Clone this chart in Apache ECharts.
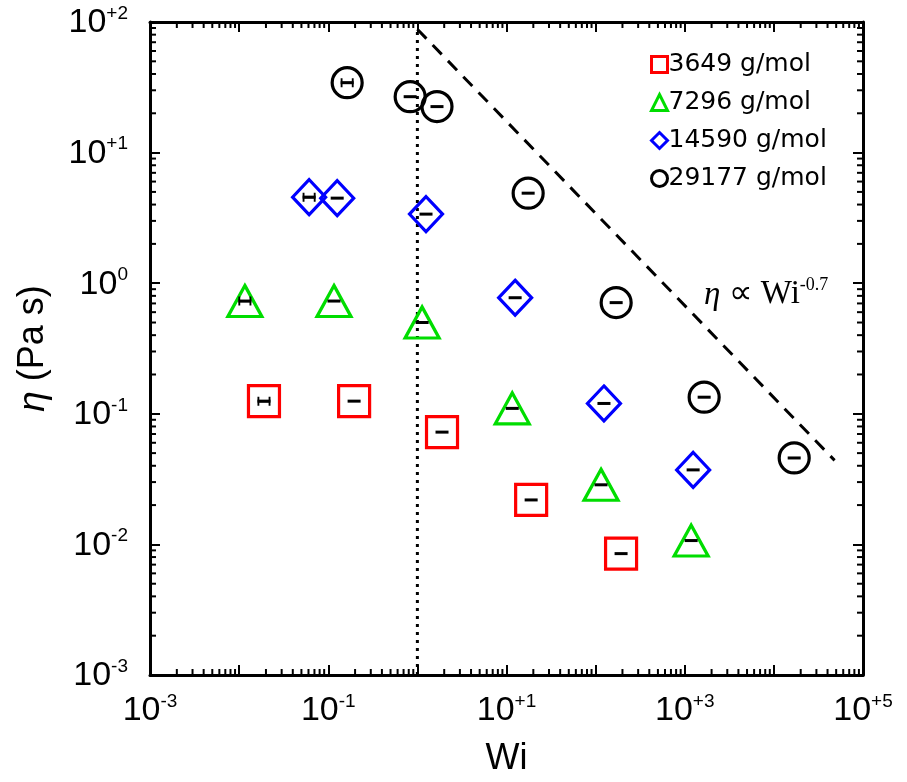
<!DOCTYPE html>
<html><head><meta charset="utf-8">
<script src="https://cdn.jsdelivr.net/npm/echarts@6/dist/echarts.min.js"></script>
<style>html,body{margin:0;padding:0;background:#fff}#c{width:907px;height:782px}</style>
</head><body><div id="c"></div>
<script>
// ---- data ----
const s3649 = [[0.019,0.125],[0.195,0.125],[1.89,0.0724],[18.9,0.0219],[193,0.0085]];
const s7296 = [[0.0116,0.73],[0.116,0.73],[1.13,0.50],[11.6,0.11],[115,0.0286],[1180,0.0107]];
const s14590 = [[0.061,4.56],[0.126,4.48],[1.25,3.38],[12.5,0.774],[124,0.12],[1242,0.0372]];
const s29177 = [[0.163,34.3],[0.83,26.8],[1.66,22.5],[17.5,4.89],[170,0.71],[1651,0.134],[16900,0.0459]];
const seriesNames = ['3649 g/mol','7296 g/mol','14590 g/mol','29177 g/mol'];
const powerLaw = [[1.0,88],[48000,0.044]];
const wiLine = [[1,0.001],[1,90]];
const xTickExps = [-3,-1,1,3,5];
const yTickExps = [-3,-2,-1,0,1,2];

const FONT = '"Liberation Sans", Arial, sans-serif';
const SERIF = '"Liberation Serif", "Times New Roman", serif';
const chart = echarts.init(document.getElementById('c'), null, {renderer:'canvas'});

function expLabel(v, allowed){
  const e = Math.round(Math.log10(v));
  if (allowed.indexOf(e) < 0) return '';
  const s = e > 0 ? '+' + e : String(e);
  return '{b|10}{s|' + s + '}';
}
const richLbl = {
  b:{fontSize:34, fontFamily:FONT, color:'#000', lineHeight:36, verticalAlign:'bottom'},
  s:{fontSize:19, fontFamily:FONT, color:'#000', lineHeight:36, verticalAlign:'top'}
};

const hollow = (c) => ({color:'rgba(0,0,0,0)', borderColor:c, borderWidth:3.2, opacity:1});
const dash = 'path://M0,0h14v3h-14z';
const hbar = 'path://M0,0h2v10h-2z M2,4h10v2.4h-10z M12,0h2v10h-2z';
const allPts = [].concat(s3649, s7296, s14590, s29177);
const capPts = [s3649[0], s7296[0], s14590[0], s29177[0]];

const axisCommon = {
  type:'log', logBase:10,
  axisLine:{show:true, onZero:false, lineStyle:{color:'#000', width:3}},
  axisTick:{show:true, inside:true, length:10, lineStyle:{color:'#000', width:2}},
  splitLine:{show:false}, minorTick:{show:false}
};

chart.setOption({
  animation:false,
  backgroundColor:'#fff',
  grid:{left:150, right:44, top:22, bottom:104, containLabel:false},
  legend:{
    orient:'vertical', left:645, top:47, itemGap:13, itemWidth:16, itemHeight:16,
    textStyle:{fontSize:25, fontFamily:'"DejaVu Sans", sans-serif', color:'#000', padding:[0,0,0,-4]},
    data:seriesNames.map((n,i)=>({name:n, itemStyle:{borderWidth:3, opacity:1}}))
  },
  xAxis:[
    Object.assign({}, axisCommon, {
      min:0.001, max:100000, splitNumber:8, position:'bottom',
      name:'Wi', nameLocation:'middle', nameGap:66,
      nameTextStyle:{fontSize:36, fontFamily:FONT, color:'#000'},
      axisLabel:{margin:17, formatter:(v)=>expLabel(v, xTickExps), rich:richLbl}
    }),
    Object.assign({}, axisCommon, {
      min:0.001, max:100000, splitNumber:8, position:'top', axisLabel:{show:false}
    })
  ],
  yAxis:[
    Object.assign({}, axisCommon, {
      min:0.001, max:100, splitNumber:5, position:'left',
      name:'{i|η} (Pa s)', nameLocation:'middle', nameGap:98, nameRotate:90,
      nameTextStyle:{fontSize:36, fontFamily:FONT, color:'#000',
        rich:{i:{fontSize:37, fontStyle:'italic', fontFamily:FONT, color:'#000'}}},
      axisLabel:{margin:22, formatter:(v)=>expLabel(v, yTickExps), rich:richLbl}
    }),
    Object.assign({}, axisCommon, {
      min:0.001, max:100, splitNumber:5, position:'right', axisLabel:{show:false}
    })
  ],
  series:[
    {type:'line', name:'wi1', data:wiLine, symbol:'none', silent:true,
     lineStyle:{color:'#000', width:3, type:[3,5]}, z:1},
    {type:'line', name:'pl', data:powerLaw, symbol:'none', silent:true,
     lineStyle:{color:'#000', width:3, type:[13,9]}, z:1},
    {type:'scatter', name:seriesNames[0], data:s3649, symbol:'rect', symbolSize:[31,31],
     itemStyle:hollow('#ff0000'), z:3},
    {type:'scatter', name:seriesNames[1], data:s7296, symbol:'triangle', symbolSize:[34,31],
     itemStyle:hollow('#00dd00'), z:3},
    {type:'scatter', name:seriesNames[2], data:s14590, symbol:'diamond', symbolSize:[33,35],
     itemStyle:hollow('#0000ff'), z:3},
    {type:'scatter', name:seriesNames[3], data:s29177, symbol:'circle', symbolSize:30,
     itemStyle:hollow('#000000'), z:3},
    {type:'scatter', name:'err', data:allPts, symbol:dash, symbolSize:[13,3],
     itemStyle:{color:'#000', opacity:1}, z:4, silent:true},
    {type:'scatter', name:'errcap', data:capPts, symbol:hbar, symbolSize:[13,9],
     itemStyle:{color:'#000', opacity:1}, z:4, silent:true}
  ]
});

// minor ticks (2..9 per decade) on all four sides, placed through the axes' own scales
function minorTicks(){
  const els = [];
  const xl = chart.convertToPixel({xAxisIndex:0}, 0.001), xr = chart.convertToPixel({xAxisIndex:0}, 100000);
  const yb = chart.convertToPixel({yAxisIndex:0}, 0.001), yt = chart.convertToPixel({yAxisIndex:0}, 100);
  const st = {stroke:'#000', lineWidth:2};
  for (let e=-3; e<5; e++) for (let m=2; m<=9; m++){
    const x = chart.convertToPixel({xAxisIndex:0}, m*Math.pow(10,e));
    els.push({type:'line', shape:{x1:x,y1:yb,x2:x,y2:yb-6}, style:st, silent:true});
    els.push({type:'line', shape:{x1:x,y1:yt,x2:x,y2:yt+6}, style:st, silent:true});
  }
  for (let e=-3; e<2; e++) for (let m=2; m<=9; m++){
    const y = chart.convertToPixel({yAxisIndex:0}, m*Math.pow(10,e));
    els.push({type:'line', shape:{x1:xl,y1:y,x2:xl+6,y2:y}, style:st, silent:true});
    els.push({type:'line', shape:{x1:xr,y1:y,x2:xr-6,y2:y}, style:st, silent:true});
  }
  els.push({type:'text', left:704, top:276, silent:true,
    style:{text:'{i|η} ∝ Wi{s|-0.7}', fill:'#000', fontSize:33, fontFamily:SERIF,
      rich:{i:{fontSize:33, fontStyle:'italic', fontFamily:SERIF, fill:'#000', lineHeight:36, verticalAlign:'bottom'},
            s:{fontSize:18, fontFamily:SERIF, fill:'#000', lineHeight:36, verticalAlign:'top'}}}});
  chart.setOption({graphic:els});
}
minorTicks();
</script></body></html>
